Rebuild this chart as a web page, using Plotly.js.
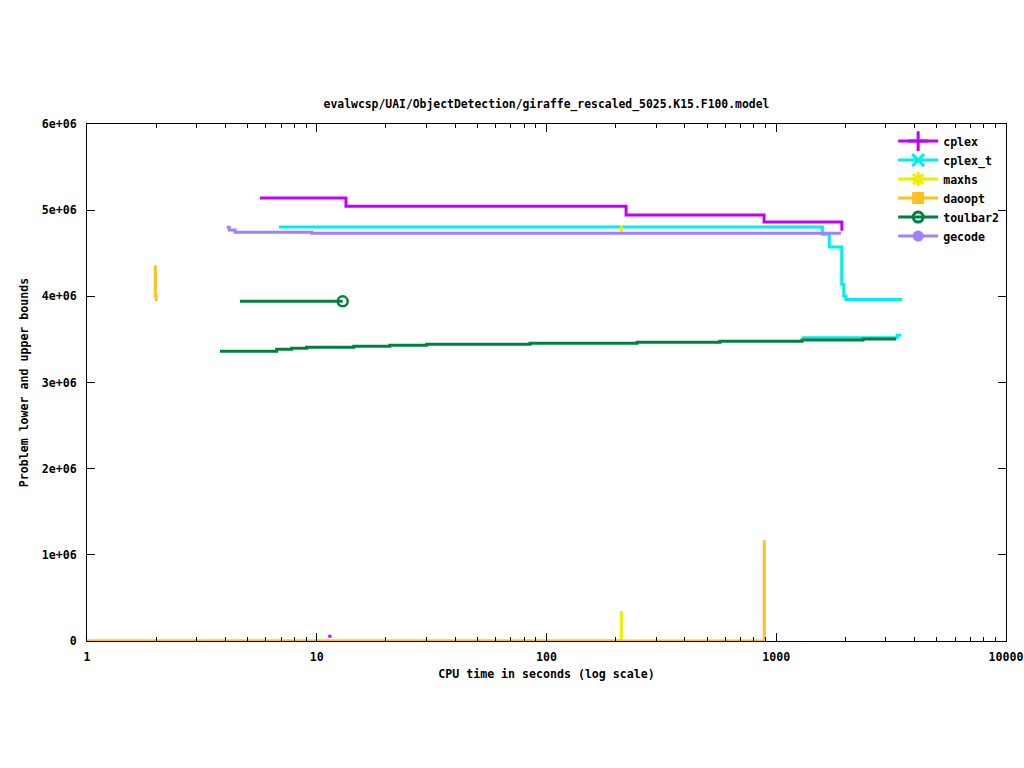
<!DOCTYPE html>
<html>
<head>
<meta charset="utf-8">
<script src="https://cdn.plot.ly/plotly-3.0.1.min.js"></script>
<style>
  html, body { margin: 0; padding: 0; background: #ffffff; }
  #chart { width: 1024px; height: 768px; }
</style>
</head>
<body>
<div id="chart"></div>
<script>
// ---------------- data ----------------
const chartTitle = "evalwcsp/UAI/ObjectDetection/giraffe_rescaled_5025.K15.F100.model";
const xTitle = "CPU time in seconds (log scale)";
const yTitle = "Problem lower and upper bounds";

const xTickVals = [1, 10, 100, 1000, 10000];
const xTickText = ["1", "10", "100", "1000", "10000"];
const xMinorVals = [2,3,4,5,6,7,8,9, 20,30,40,50,60,70,80,90, 200,300,400,500,600,700,800,900, 2000,3000,4000,5000,6000,7000,8000,9000];
const yTickVals = [0, 1e6, 2e6, 3e6, 4e6, 5e6, 6e6];
const yTickText = ["0", "1e+06", "2e+06", "3e+06", "4e+06", "5e+06", "6e+06"];

const solvers = ["cplex", "cplex_t", "maxhs", "daoopt", "toulbar2", "gecode"];

// cplex
const cplexUpX = [5.66, 13.4, 222, 885, 1930];
const cplexUpY = [5.141e6, 5.045e6, 4.944e6, 4.862e6, 4.761e6];
const cplexLoX = [11.4];
const cplexLoY = [5.5e4];

// cplex_t
const cplexTUpX = [6.85, 1587, 1702, 1928, 1968, 2009, 3526];
const cplexTUpY = [4.804e6, 4.720e6, 4.572e6, 4.140e6, 4.004e6, 3.963e6, 3.963e6];
const cplexTLoX = [1295, 3355, 3500];
const cplexTLoY = [3.519e6, 3.548e6, 3.548e6];

// maxhs
const maxhsUpX = [211.7, 211.7];
const maxhsUpY = [4.827e6, 4.750e6];
const maxhsLoX = [1, 211.7];
const maxhsLoY = [0, 0.348e6];

// daoopt
const daooptUpX = [1.984, 2.003, 2.003];
const daooptUpY = [4.36e6, 4.005e6, 3.946e6];
const daooptLoX = [1, 887];
const daooptLoY = [0, 1.17e6];

// toulbar2
const tbUpX = [4.63, 12.97];
const tbUpY = [3.942e6, 3.942e6];
const tbLoX = [3.79, 6.69, 7.78, 9.04, 14.5, 20.8, 30.1, 84.8, 248, 569, 1295, 2387, 3320];
const tbLoY = [3.362e6, 3.385e6, 3.397e6, 3.408e6, 3.420e6, 3.432e6, 3.443e6, 3.455e6, 3.466e6, 3.478e6, 3.493e6, 3.505e6, 3.505e6];

// gecode
const gecUpX = [4.06, 4.16, 4.41, 9.5, 1914];
const gecUpY = [4.801e6, 4.770e6, 4.743e6, 4.731e6, 4.731e6];

// ---------------- styles ----------------
const colors = {
  cplex: "#c000ff",
  cplex_t: "#00eeee",
  maxhs: "#eeee00",
  daoopt: "#ffc020",
  toulbar2: "#008040",
  gecode: "#a080ff"
};
const symbols = {
  cplex: {symbol: "cross-thin", size: 14, color: colors.cplex, line: {width: 3, color: colors.cplex}},
  cplex_t: {symbol: "x-thin", size: 12, color: colors.cplex_t, line: {width: 3, color: colors.cplex_t}},
  maxhs: {symbol: "asterisk", size: 12, color: colors.maxhs, line: {width: 3, color: colors.maxhs}},
  daoopt: {symbol: "square", size: 12, color: colors.daoopt},
  toulbar2: {symbol: "circle-open", size: 10, color: colors.toulbar2, line: {width: 3, color: colors.toulbar2}},
  gecode: {symbol: "circle", size: 11, color: colors.gecode}
};
const LW = 3;
const FONT = "DejaVu Sans Mono, Liberation Mono, monospace";

function stepLine(name, x, y, shape) {
  return {
    type: "scatter", mode: "lines", x: x, y: y,
    line: {color: colors[name], width: LW, shape: shape || "hv"},
    showlegend: false, legendgroup: name, hoverinfo: "skip"
  };
}

const traces = [];
// in gnuplot order (later on top)
traces.push(stepLine("cplex", cplexUpX, cplexUpY));
traces.push({type: "scatter", mode: "markers", x: cplexLoX, y: cplexLoY,
  marker: {symbol: "square", size: 3, color: colors.cplex}, showlegend: false, hoverinfo: "skip"});
traces.push(stepLine("cplex_t", cplexTUpX, cplexTUpY));
traces.push(stepLine("cplex_t", cplexTLoX, cplexTLoY));
traces.push(stepLine("maxhs", maxhsUpX, maxhsUpY));
traces.push(stepLine("maxhs", maxhsLoX, maxhsLoY));
traces.push(stepLine("daoopt", daooptUpX, daooptUpY, "vh"));
traces.push(stepLine("daoopt", daooptLoX, daooptLoY));
traces.push(stepLine("toulbar2", tbUpX, tbUpY));
traces.push(stepLine("toulbar2", tbLoX, tbLoY));
traces.push({type: "scatter", mode: "markers",
  x: [tbUpX[tbUpX.length - 1]], y: [tbUpY[tbUpY.length - 1]],
  marker: {symbol: "circle-open", size: 10, color: colors.toulbar2, line: {width: 2.5, color: colors.toulbar2}},
  showlegend: false, hoverinfo: "skip", cliponaxis: false});
traces.push(stepLine("gecode", gecUpX, gecUpY));

// legend entries
solvers.forEach(function (s) {
  traces.push({
    type: "scatter", mode: "lines+markers", x: [null], y: [null], name: s,
    line: {color: colors[s], width: LW}, marker: symbols[s],
    showlegend: true, legendgroup: s
  });
});

const tickFont = {family: FONT, size: 11.6, color: "#000000", weight: "bold"};

const layout = {
  width: 1024, height: 768,
  paper_bgcolor: "#ffffff", plot_bgcolor: "#ffffff",
  margin: {l: 87, r: 18, t: 124, b: 127, pad: 0},
  showlegend: true,
  title: {
    text: chartTitle, font: {family: FONT, size: 11.4, color: "#000000", weight: "bold"},
    x: 0.5, xref: "paper", xanchor: "center",
    y: 1 - 104 / 768, yref: "container", yanchor: "middle"
  },
  xaxis: {
    type: "log", range: [0, 4], autorange: false,
    showline: true, linecolor: "#000000", linewidth: 1, mirror: "allticks",
    showgrid: false, zeroline: false,
    tickmode: "array", tickvals: xTickVals, ticktext: xTickText,
    ticks: "inside", ticklen: 8, tickwidth: 1, tickcolor: "#000000",
    ticklabelstandoff: 5,
    minor: {tickmode: "array", tickvals: xMinorVals, ticks: "inside", ticklen: 4, tickwidth: 1, tickcolor: "#000000", showgrid: false},
    tickfont: tickFont,
    title: {text: xTitle, font: tickFont, standoff: 6},
    automargin: false
  },
  yaxis: {
    range: [0, 6e6], autorange: false,
    showline: true, linecolor: "#000000", linewidth: 1, mirror: "allticks",
    showgrid: false, zeroline: false,
    tickmode: "array", tickvals: yTickVals, ticktext: yTickText,
    ticks: "inside", ticklen: 8, tickwidth: 1, tickcolor: "#000000",
    ticklabelstandoff: 7,
    tickfont: tickFont,
    title: {text: yTitle, font: tickFont, standoff: 10},
    automargin: false
  },
  legend: {
    x: 0.998, xanchor: "right", y: 0.995, yanchor: "top",
    bgcolor: "rgba(0,0,0,0)", borderwidth: 0,
    font: {family: FONT, size: 11.6, color: "#000000", weight: "bold"},
    itemwidth: 40, tracegroupgap: 0
  }
};

Plotly.newPlot("chart", traces, layout, {staticPlot: true, displayModeBar: false});
</script>
</body>
</html>
